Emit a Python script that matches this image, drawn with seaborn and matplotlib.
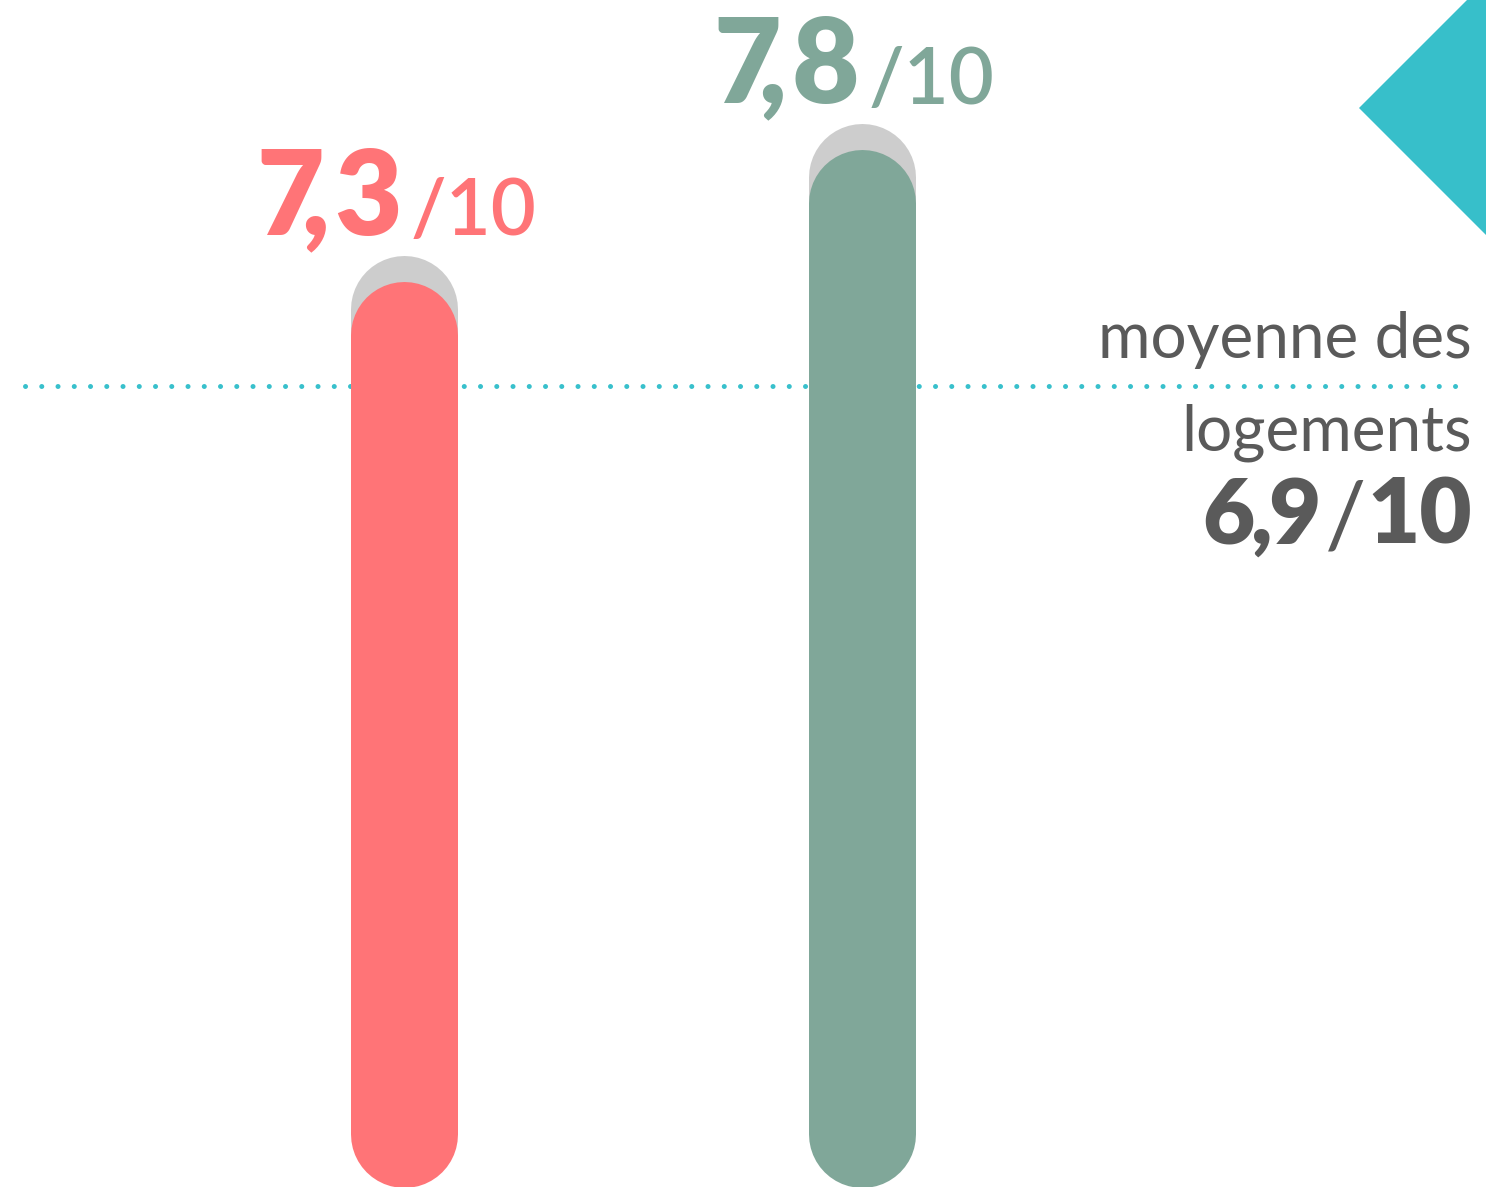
import matplotlib
matplotlib.use('Agg')
import matplotlib.pyplot as plt
import matplotlib.transforms as mtransforms
from matplotlib.patches import Polygon, Rectangle
import seaborn as sns
import pandas as pd

# ---- data ----
categories = ['Groupe A', 'Groupe B']
scores = [7.3, 7.8]
bar_colors = ['#FF7477', '#80A799']
mean_score = 6.9
scale_max = 10
mean_label = ['moyenne des', 'logements']

sns.set_theme(style='white')
plt.rcParams['font.family'] = ['Lato', 'DejaVu Sans']
plt.rcParams['mathtext.fontset'] = 'custom'
plt.rcParams['mathtext.rm'] = 'Lato'
plt.rcParams['mathtext.it'] = 'Lato:italic'
plt.rcParams['mathtext.bf'] = 'Lato:heavy'

W, H, DPI = 1486, 1187, 100
fig = plt.figure(figsize=(W / DPI, H / DPI), dpi=DPI)
fig.patch.set_facecolor('white')
ax = fig.add_axes([0, 0, 1, 1])

df = pd.DataFrame({'cat': categories, 'score': scores})
sns.barplot(data=df, x='cat', y='score', hue='cat', palette=bar_colors,
            width=0.2336, legend=False, ax=ax, saturation=1)

XLIM = (-0.8821, 2.3624)
YLIM = (3.8561, 8.3695)
ax.set_xlim(*XLIM)
ax.set_ylim(*YLIM)
ax.axis('off')

ppu_x = W / (XLIM[1] - XLIM[0])
ppu_y = H / (YLIM[1] - YLIM[0])


def tight_number(v, k1, k2):
    a, b = f"{v:.1f}".split('.')
    return (rf"$\mathbf{{{a}}}\hspace{{{k1}}}\mathbf{{,}}"
            rf"\hspace{{{k2}}}\mathbf{{{b}}}$")


bars = [p for p in ax.patches if isinstance(p, Rectangle) and p.get_height() > 0]
for p in bars:
    cx = p.get_x() + p.get_width() / 2
    top = p.get_y() + p.get_height()
    color = p.get_facecolor()
    p.set_visible(False)
    wpx = p.get_width() * ppu_x
    r = (wpx / 2) / ppu_y
    lw = wpx * 72 / DPI
    # grey shadow cap
    ax.plot([cx, cx], [YLIM[0] + r, top - r], color='#CDCDCD', lw=lw,
            solid_capstyle='round', zorder=2,
            transform=mtransforms.offset_copy(ax.transData, fig=fig, x=0, y=26, units='dots'))
    ax.plot([cx, cx], [YLIM[0] + r, top - r], color=color, lw=lw,
            solid_capstyle='round', zorder=3)
    # value label
    ax.text(cx, top, tight_number(p.get_height(), -0.24, 0.05), ha='right', va='baseline',
            fontsize=84, color=color,
            transform=mtransforms.offset_copy(ax.transData, fig=fig, x=-5, y=46, units='dots'))
    ax.text(cx, top, f"/{scale_max}", ha='left', va='baseline',
            fontsize=56, fontweight='semibold', color=color,
            transform=mtransforms.offset_copy(ax.transData, fig=fig, x=7, y=46, units='dots'))

# mean dotted line
ax.axhline(mean_score, xmin=25 / W, xmax=1466 / W, color='#38C0CC', lw=3.6,
           ls=(0, (0.01, 3.24)), dash_capstyle='round', zorder=1)

blend = mtransforms.blended_transform_factory(ax.transAxes, ax.transData)
gray = '#5A5A5A'
xr = 1472 / W
ax.text(xr, mean_score, mean_label[0], ha='right', va='baseline', fontsize=46,
        color=gray, transform=mtransforms.offset_copy(blend, fig=fig, x=0, y=28.5, units='dots'))
ax.text(xr, mean_score, mean_label[1], ha='right', va='baseline', fontsize=46,
        color=gray, transform=mtransforms.offset_copy(blend, fig=fig, x=0, y=-64.5, units='dots'))
ax.text(xr, mean_score, str(scale_max), ha='right', va='baseline', fontsize=65,
        fontweight='heavy', color=gray,
        transform=mtransforms.offset_copy(blend, fig=fig, x=0, y=-157.5, units='dots'))
ax.text(xr, mean_score, '/', ha='center', va='baseline', fontsize=66,
        fontweight='normal', color=gray,
        transform=mtransforms.offset_copy(blend, fig=fig, x=-126, y=-160, units='dots'))
ax.text(xr, mean_score, tight_number(mean_score, -0.06, -0.04), ha='right', va='baseline',
        fontsize=65, color=gray,
        transform=mtransforms.offset_copy(blend, fig=fig, x=-152, y=-157.5, units='dots'))

# decorative diamond corner
diamond = Polygon([(1359 / W, 1 - 108 / H), ((1359 + 300) / W, 1 - (108 - 300) / H),
                   ((1359 + 300) / W, 1 - (108 + 300) / H)],
                  closed=True, transform=ax.transAxes, facecolor='#37BFCA',
                  edgecolor='none', zorder=1)
ax.add_patch(diamond)

fig.savefig('out.png', dpi=DPI, facecolor='white')
